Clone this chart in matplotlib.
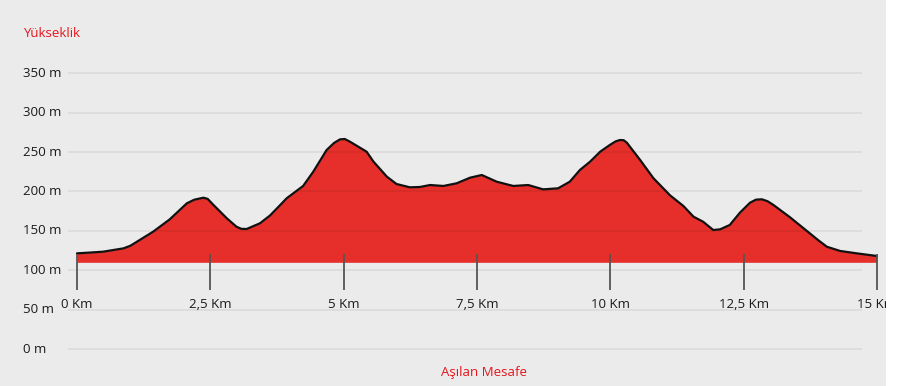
"""
Elevation profile of the route (Yükseklik / Aşılan Mesafe).
"""

import matplotlib

matplotlib.use("Agg")
import matplotlib.pyplot as plt
from matplotlib.transforms import blended_transform_factory

plt.rcParams["font.family"] = ["Open Sans", "DejaVu Sans"]

# distance along the route (km) and elevation (m)
distance_km = [
    0.0, 0.2, 0.49, 0.87, 1.0, 1.12, 1.43, 1.74, 2.06, 2.2, 2.37, 2.45, 2.56,
    2.81, 2.99, 3.08, 3.18, 3.43, 3.62, 3.81, 3.93, 4.24, 4.43, 4.68, 4.82,
    4.93, 5.02, 5.12, 5.43, 5.56, 5.81, 5.99, 6.24, 6.43, 6.62, 6.87, 7.12,
    7.37, 7.59, 7.87, 8.18, 8.46, 8.74, 9.02, 9.24, 9.43, 9.62, 9.81, 9.99,
    10.1, 10.18, 10.25, 10.31, 10.56, 10.81, 11.12, 11.37, 11.56, 11.74,
    11.93, 12.06, 12.24, 12.43, 12.62, 12.73, 12.84, 12.95, 13.06, 13.37,
    13.74, 13.9, 14.06, 14.31, 14.62, 15.0,
]
elevation_m = [
    121.4, 122.2, 123.5, 127.7, 131.0, 136.0, 149.0, 164.6, 184.9, 189.5,
    192.0, 190.5, 182.7, 165.8, 155.2, 152.5, 152.3, 159.5, 169.5, 182.7,
    191.2, 206.9, 225.0, 252.5, 261.5, 266.0, 266.5, 263.0, 250.4, 237.7,
    218.7, 209.4, 205.2, 205.6, 208.1, 206.9, 210.3, 217.4, 220.8, 212.3,
    206.9, 208.1, 202.6, 203.9, 212.3, 227.2, 237.7, 250.4, 258.9, 263.5,
    265.2, 265.0, 261.8, 239.8, 216.6, 195.0, 181.5, 167.9, 161.5, 151.0,
    151.9, 157.4, 173.0, 185.7, 189.5, 190.0, 187.5, 182.7, 167.1, 146.8,
    138.0, 129.8, 124.4, 121.4, 118.0,
]

x_ticks = [0, 2.5, 5, 7.5, 10, 12.5, 15]
x_tick_labels = ["0 Km", "2,5 Km", "5 Km", "7,5 Km", "10 Km", "12,5 Km", "15 Km"]
y_ticks = [0, 50, 100, 150, 200, 250, 300, 350]
y_tick_labels = ["0 m", "50 m", "100 m", "150 m", "200 m", "250 m", "300 m", "350 m"]

FILL_BASE = 110
RED = "#e6141c"
BG = "#ebebeb"

fig = plt.figure(figsize=(9, 3.86), dpi=100, facecolor="white")
ax = fig.add_axes([0, 0, 886 / 900, 1])
ax.set_facecolor(BG)
for spine in ax.spines.values():
    spine.set_visible(False)
ax.set_xticks([])
ax.set_yticks([])
ax.set_xlim(-1.444, 15.169)
ax.set_ylim(-46.95, 442.9)

# profile
ax.fill_between(distance_km, elevation_m, FILL_BASE, color="#e62f2a", lw=0, zorder=2)
ax.plot(distance_km, elevation_m, color="#111111", lw=1.6, zorder=4,
        solid_joinstyle="round", solid_capstyle="round")

# grid lines sit on top of the fill, semi transparent
ax.hlines(y_ticks, -0.17, 14.72, color="black", alpha=0.07, lw=1.2, zorder=3)

# km ticks drawn inside the chart
ax.vlines(x_ticks, 75, 120.5, color="#555555", lw=1.3, zorder=5)
for x, lab in zip(x_ticks, x_tick_labels):
    ax.text(x, 57, lab, ha="center", va="center", fontsize=9.5,
            color="#1a1a1a", clip_on=True, zorder=6)

trans = blended_transform_factory(ax.transAxes, ax.transData)
for y, lab in zip(y_ticks, y_tick_labels):
    ax.text(0.026, y, lab, transform=trans, ha="left", va="center",
            fontsize=9.5, color="#1a1a1a")

ax.text(0.026, 0.912, "Yükseklik", transform=ax.transAxes, ha="left",
        va="center", fontsize=9.5, color=RED)
ax.text(0.546, 0.034, "Aşılan Mesafe", transform=ax.transAxes, ha="center",
        va="center", fontsize=9.5, color=RED)

fig.savefig("out.png", dpi=100, facecolor="white")
